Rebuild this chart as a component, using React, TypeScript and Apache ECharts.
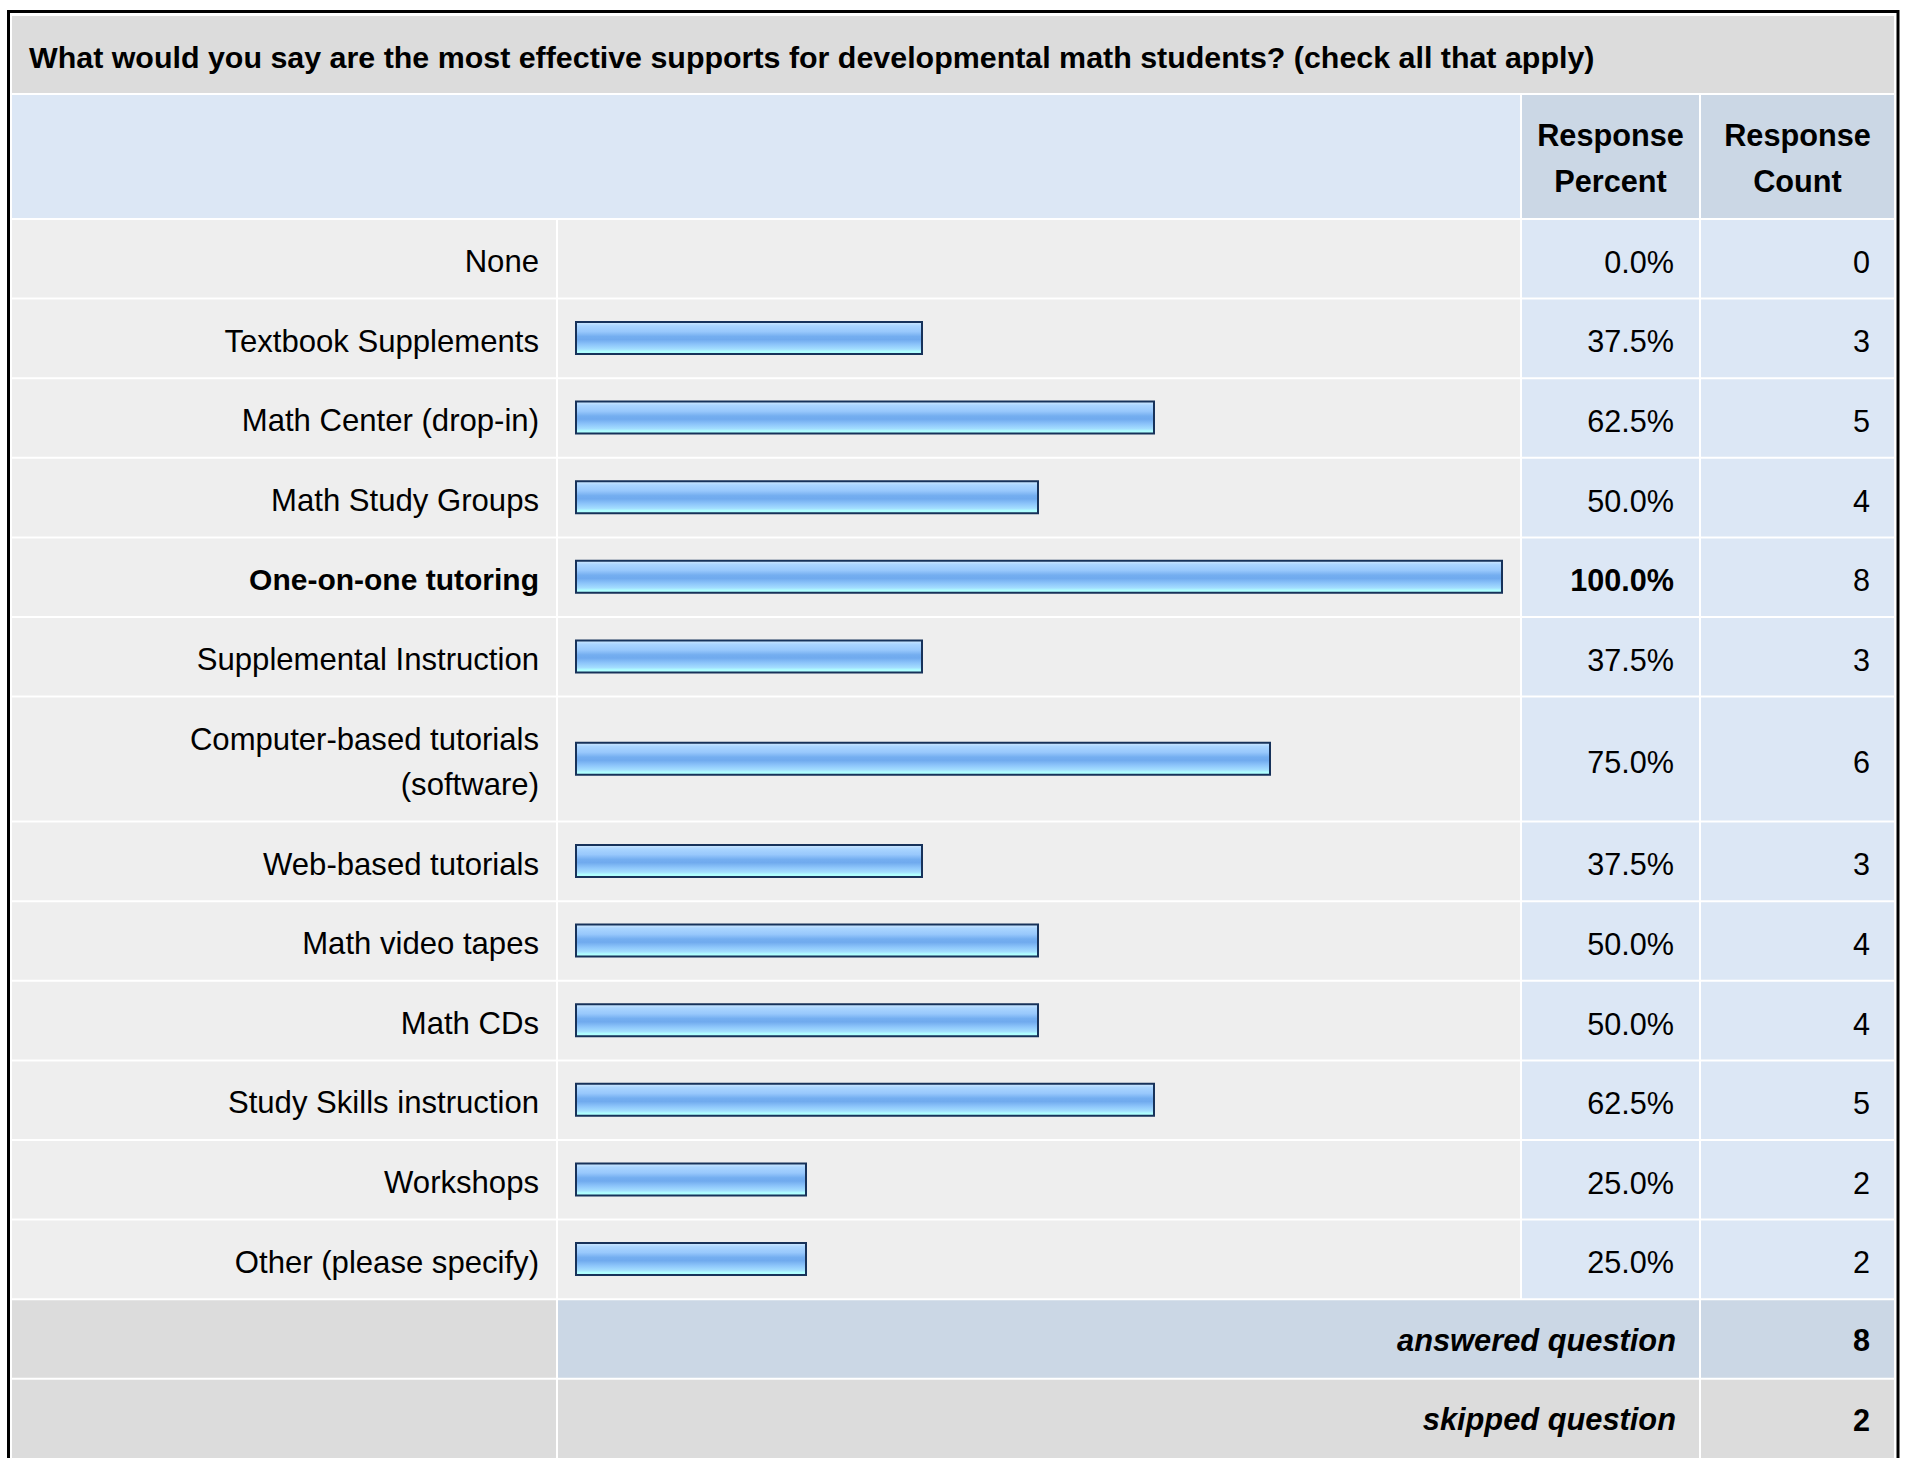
import React, { useEffect, useRef } from "react";
import * as echarts from "echarts";

const TITLE =
  "What would you say are the most effective supports for developmental math students? (check all that apply)";
const HEADER_PERCENT = "Response\nPercent";
const HEADER_COUNT = "Response\nCount";
const CATEGORIES = [
  "None",
  "Textbook Supplements",
  "Math Center (drop-in)",
  "Math Study Groups",
  "One-on-one tutoring",
  "Supplemental Instruction",
  "Computer-based tutorials\n(software)",
  "Web-based tutorials",
  "Math video tapes",
  "Math CDs",
  "Study Skills instruction",
  "Workshops",
  "Other (please specify)",
];
const PERCENTS = [0, 37.5, 62.5, 50, 100, 37.5, 75, 37.5, 50, 50, 62.5, 25, 25];
const COUNTS = [0, 3, 5, 4, 8, 3, 6, 3, 4, 4, 5, 2, 2];
const FOOTER_LABELS = ["answered question", "skipped question"];
const FOOTER_VALUES = [8, 2];

// layout
const FONT = "'Liberation Sans', Arial, Helvetica, sans-serif";
const FS_LABEL = 31.1;
const FS_LABEL_BOLD = 30;
const FS_NUM = 30.6;
const FS_HEAD = 30.7;
const FS_TITLE = 30.4;
const X0 = 12;
const X_LABEL_END = 556;
const X_BAR = 558;
const X_PCT = 1522;
const X_CNT = 1701;
const X_END = 1894;
const TITLE_TOP = 16;
const TITLE_BOTTOM = 93;
const HEADER_TOP = 95;
const HEADER_BOTTOM = 218;
const ROWS_TOP = 220;
const PITCH = 79.6;
const TALL_PITCH = 125;
const GAP = 2;
const BAR_LEFT = 575;
const BAR_WIDTH_PX = 928;

const C_TITLE = "#dcdcdc";
const C_HEADER = "#dce7f5";
const C_HEADER_DARK = "#cbd7e5";
const C_ROW = "#eeeeee";
const C_ROW_BLUE = "#dce7f5";

function App() {
  const ref = useRef<HTMLDivElement>(null);
  useEffect(() => {
    if (!ref.current) return;
    const chart = echarts.init(ref.current, null, { renderer: "svg" });
    const n = CATEGORIES.length;
    const pitchOf = (i: number) => (CATEGORIES[i].includes("\n") ? TALL_PITCH : PITCH);
    const tops: number[] = [];
    let y = ROWS_TOP;
    for (let i = 0; i < n; i++) {
      tops.push(y);
      y += pitchOf(i);
    }
    const footerTop = y;
    const maxVal = Math.max(...PERCENTS);

    const graphics: any[] = [];
    const rect = (x: number, yy: number, w: number, h: number, fill: string) =>
      graphics.push({ type: "rect", z: -10, shape: { x, y: yy, width: w, height: h }, style: { fill } });
    const text = (x: number, yy: number, t: string, align: string, opts: any = {}) =>
      graphics.push({
        type: "text",
        z: 10,
        x,
        y: yy,
        style: {
          text: t,
          x: 0,
          y: 0,
          textAlign: align,
          textVerticalAlign: "middle",
          font: `${opts.style || "normal"} ${opts.weight || "normal"} ${opts.size || FS_NUM}px ${FONT}`,
          fill: "#000",
          lineHeight: opts.lineHeight,
        },
      });

    // title
    rect(X0, TITLE_TOP, X_END - X0, TITLE_BOTTOM - TITLE_TOP, C_TITLE);
    text(29, (TITLE_TOP + TITLE_BOTTOM) / 2 + 2, TITLE, "left", { weight: "bold", size: FS_TITLE });
    // header
    rect(X0, HEADER_TOP, X_PCT - GAP - X0, HEADER_BOTTOM - HEADER_TOP, C_HEADER);
    rect(X_PCT, HEADER_TOP, X_CNT - GAP - X_PCT, HEADER_BOTTOM - HEADER_TOP, C_HEADER_DARK);
    rect(X_CNT, HEADER_TOP, X_END - X_CNT, HEADER_BOTTOM - HEADER_TOP, C_HEADER_DARK);
    const hMid = (HEADER_TOP + HEADER_BOTTOM) / 2 + 2;
    text((X_PCT + X_CNT - GAP) / 2, hMid, HEADER_PERCENT, "center", { weight: "bold", size: FS_HEAD, lineHeight: 46 });
    text((X_CNT + X_END) / 2, hMid, HEADER_COUNT, "center", { weight: "bold", size: FS_HEAD, lineHeight: 46 });

    // rows
    for (let i = 0; i < n; i++) {
      const h = pitchOf(i) - GAP;
      const t = tops[i];
      rect(X0, t, X_LABEL_END - X0, h, C_ROW);
      rect(X_BAR, t, X_PCT - GAP - X_BAR, h, C_ROW);
      rect(X_PCT, t, X_CNT - GAP - X_PCT, h, C_ROW_BLUE);
      rect(X_CNT, t, X_END - X_CNT, h, C_ROW_BLUE);
      const mid = t + h / 2 + 3;
      text(1674, mid, PERCENTS[i].toFixed(1) + "%", "right", {
        weight: PERCENTS[i] === maxVal ? "bold" : "normal",
      });
      text(1870, mid, String(COUNTS[i]), "right");
    }

    // footer
    FOOTER_LABELS.forEach((lab, k) => {
      const t = footerTop + k * PITCH;
      const h = k === FOOTER_LABELS.length - 1 ? 400 : PITCH - GAP;
      const mid = t + (PITCH - GAP) / 2 + 1;
      const blue = k === 0;
      rect(X0, t, X_LABEL_END - X0, h, C_TITLE);
      rect(X_BAR, t, X_CNT - GAP - X_BAR, h, blue ? C_HEADER_DARK : C_TITLE);
      rect(X_CNT, t, X_END - X_CNT, h, blue ? C_HEADER_DARK : C_TITLE);
      text(1676, mid, lab, "right", { weight: "bold", style: "italic", size: 30.8 });
      text(1870, mid, String(FOOTER_VALUES[k]), "right", { weight: "bold" });
    });

    // outer border
    graphics.push({
      type: "rect",
      z: 20,
      shape: { x: 8.5, y: 11.5, width: 1889.5, height: 1600 },
      style: { fill: "none", stroke: "#000", lineWidth: 3 },
    });

    // segments of rows with equal pitch -> one grid each
    const segments: { start: number; end: number; pitch: number }[] = [];
    let s = 0;
    while (s < n) {
      let e = s;
      const p = pitchOf(s);
      while (e + 1 < n && pitchOf(e + 1) === p) e++;
      segments.push({ start: s, end: e, pitch: p });
      s = e + 1;
    }

    const barColor = new echarts.graphic.LinearGradient(0, 0, 0, 1, [
      { offset: 0, color: "#d2eaff" },
      { offset: 0.12, color: "#aad5ff" },
      { offset: 0.3, color: "#98c8fc" },
      { offset: 0.45, color: "#74aef0" },
      { offset: 0.55, color: "#70aaee" },
      { offset: 0.7, color: "#8cc4fa" },
      { offset: 0.85, color: "#a4deff" },
      { offset: 0.92, color: "#b0ffff" },
      { offset: 1, color: "#b0ffff" },
    ]);

    const grids: any[] = [];
    const xAxes: any[] = [];
    const yAxes: any[] = [];
    const series: any[] = [];
    segments.forEach((seg, gi) => {
      const count = seg.end - seg.start + 1;
      grids.push({
        left: BAR_LEFT,
        width: BAR_WIDTH_PX,
        top: tops[seg.start] - 1.4,
        height: seg.pitch * count,
        containLabel: false,
      });
      xAxes.push({ type: "value", gridIndex: gi, min: 0, max: 100, show: false });
      const labels = CATEGORIES.slice(seg.start, seg.end + 1);
      yAxes.push({
        type: "category",
        gridIndex: gi,
        inverse: true,
        data: labels,
        axisLine: { show: false },
        axisTick: { show: false },
        splitLine: { show: false },
        axisLabel: {
          interval: 0,
          margin: 36,
          fontSize: FS_LABEL,
          fontFamily: FONT,
          color: "#000",
          lineHeight: 45,
          padding: [6, 0, 0, 0],
          formatter: (v: string, idx: number) =>
            PERCENTS[seg.start + idx] === maxVal ? `{b|${v}}` : v,
          rich: {
            b: { fontSize: FS_LABEL_BOLD, fontFamily: FONT, fontWeight: "bold", color: "#000" },
          },
        },
      });
      series.push({
        type: "bar",
        xAxisIndex: gi,
        yAxisIndex: gi,
        barWidth: 34,
        data: PERCENTS.slice(seg.start, seg.end + 1).map((v) =>
          v === 0 ? { value: v, itemStyle: { borderWidth: 0 } } : v
        ),
        itemStyle: { color: barColor, borderColor: "#17325a", borderWidth: 2 },
        silent: true,
      });
    });

    chart.setOption({
      animation: false,
      backgroundColor: "#ffffff",
      grid: grids,
      xAxis: xAxes,
      yAxis: yAxes,
      series,
      graphic: { elements: graphics },
    });
    return () => chart.dispose();
  }, []);
  return (
    <div
      ref={ref}
      style={{ position: "fixed", left: 0, top: 0, width: 1909, height: 1458 }}
    />
  );
}

export default App;
